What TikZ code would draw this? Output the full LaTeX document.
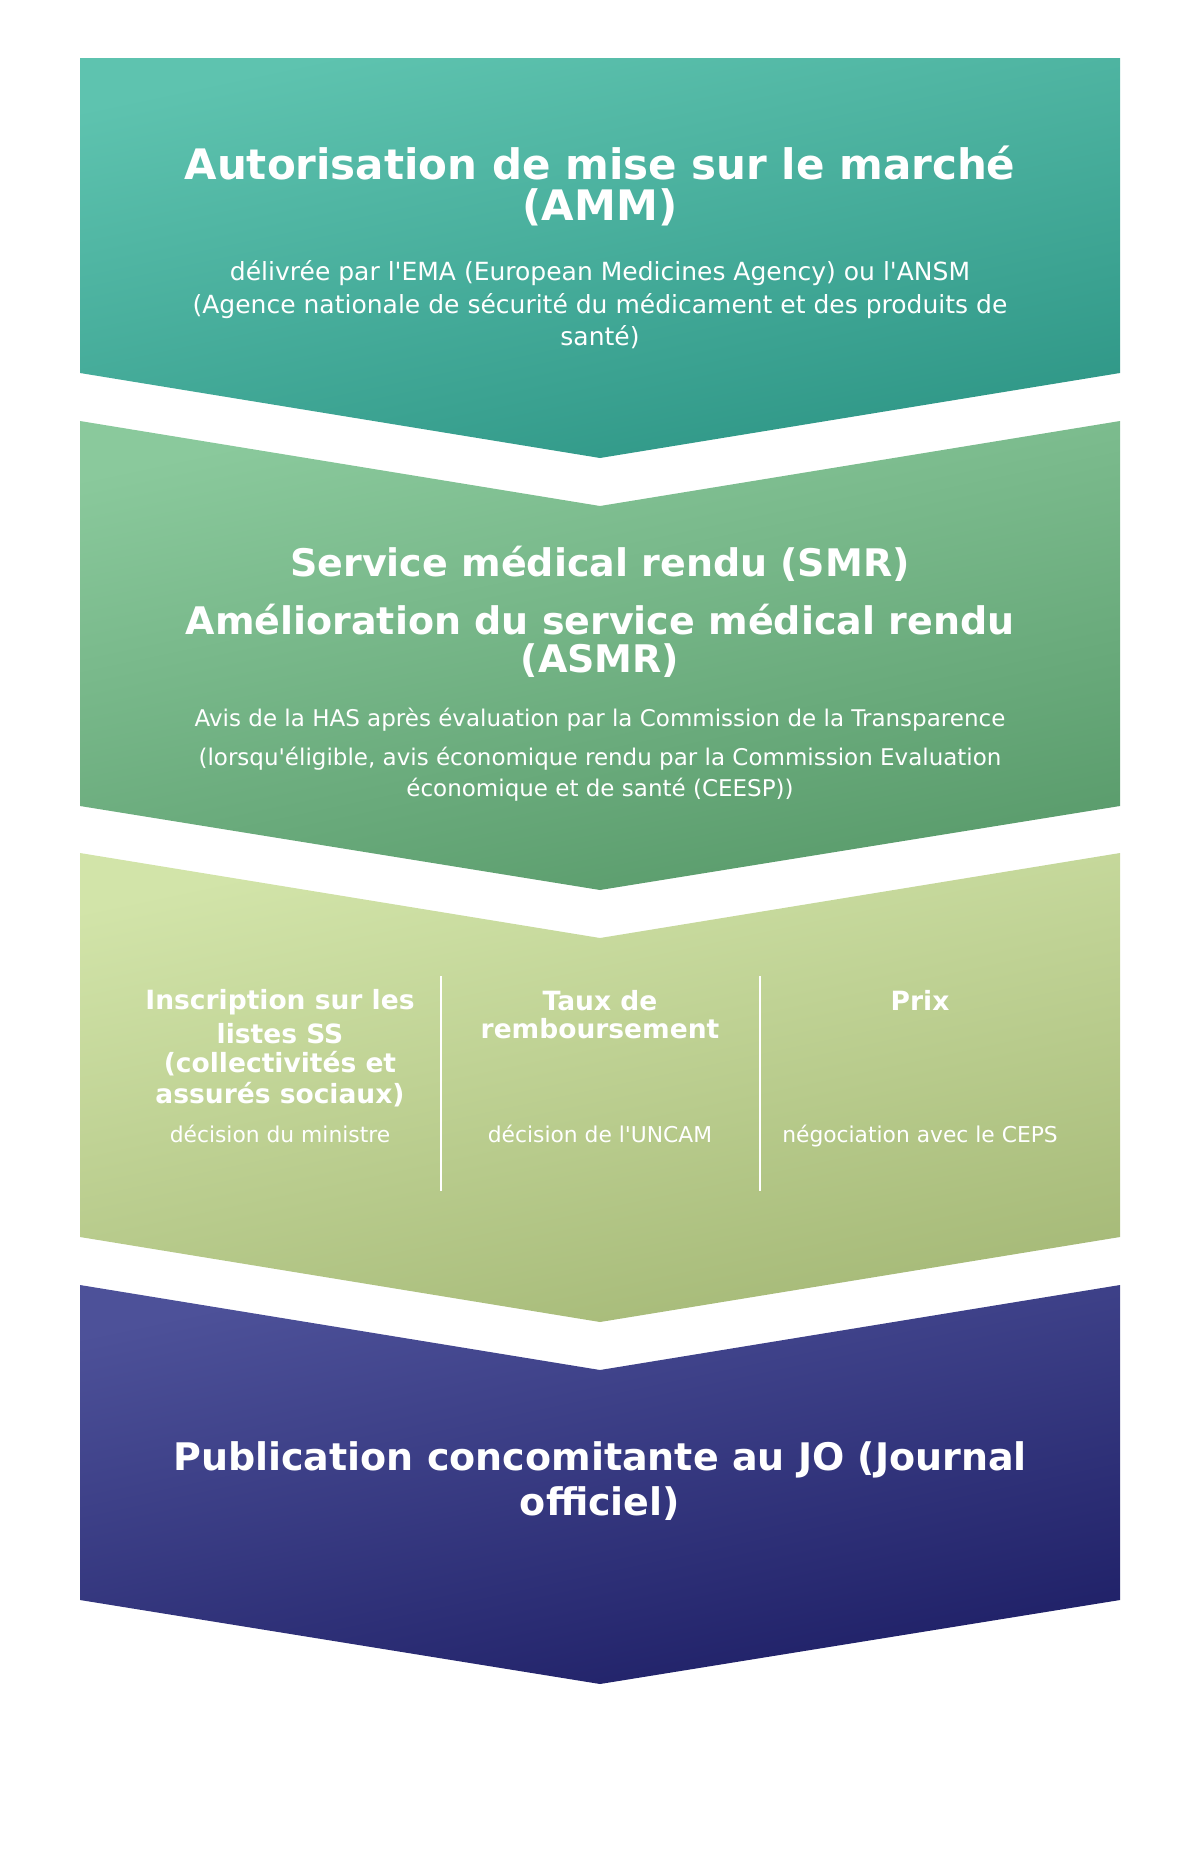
\documentclass[tikz,border=0pt]{standalone}
\usepackage{fontspec}
\setmainfont{DejaVu Sans}
\definecolor{aTop}{HTML}{5EC3AF}
\definecolor{aMid}{HTML}{40B6A1}
\definecolor{aBot}{HTML}{2E9686}
\definecolor{bTop}{HTML}{8AC99C}
\definecolor{bMid}{HTML}{6DBE84}
\definecolor{bBot}{HTML}{599B6B}
\definecolor{cTop}{HTML}{D2E4A9}
\definecolor{cMid}{HTML}{C6DA94}
\definecolor{cBot}{HTML}{A5B977}
\definecolor{dTop}{HTML}{4D5199}
\definecolor{dMid}{HTML}{262A7B}
\definecolor{dBot}{HTML}{1E1F66}
\newcommand{\apos}{\textquotesingle}
\begin{document}
\begin{tikzpicture}[x=1pt,y=-1pt,
  chev/.style n args={3}{top color=#1, middle color=#2, bottom color=#3, shading angle=12},
  ttl/.style={text=white, anchor=base, inner sep=0pt, font=\bfseries\fontsize{#1}{#1}\selectfont},
  txt/.style={text=white, anchor=base, inner sep=0pt, font=\fontsize{#1}{#1}\selectfont},
  divider/.style={draw=white, line width=2pt}]
\useasboundingbox (0,0) rectangle (1200,1850);
% chevrons
\shade[chev={aTop}{aMid}{aBot}]
  (80,58) -- (1120,58) -- (1120,373) -- (600,458) -- (80,373) -- cycle;
\shade[chev={bTop}{bMid}{bBot}]
  (80,421) -- (600,506) -- (1120,421) -- (1120,806) -- (600,890) -- (80,806) -- cycle;
\shade[chev={cTop}{cMid}{cBot}]
  (80,853) -- (600,938) -- (1120,853) -- (1120,1237) -- (600,1322) -- (80,1237) -- cycle;
\shade[chev={dTop}{dMid}{dBot}]
  (80,1285) -- (600,1370) -- (1120,1285) -- (1120,1600) -- (600,1684) -- (80,1600) -- cycle;
% step 1
\node[ttl=42] (amm1) at (600,179) {Autorisation de mise sur le marché};
\node[ttl=42] (amm2) at (600,220.7) {(AMM)};
\node[txt=25] (ema1) at (600,280.7) {délivrée par l\apos EMA (European Medicines Agency) ou l\apos ANSM};
\node[txt=25] (ema2) at (600,313) {(Agence nationale de sécurité du médicament et des produits de};
\node[txt=25] (ema3) at (600,345.7) {santé)};
% step 2
\node[ttl=38] (smr) at (600,576.7) {Service médical rendu (SMR)};
\node[ttl=38] (asmr1) at (600,634.3) {Amélioration du service médical rendu};
\node[ttl=38] (asmr2) at (600,672.3) {(ASMR)};
\node[txt=23] (has1) at (600,726.7) {Avis de la HAS après évaluation par la Commission de la Transparence};
\node[txt=23] (has2) at (600,765.7) {(lorsqu\apos éligible, avis économique rendu par la Commission Evaluation};
\node[txt=23] (has3) at (600,796.7) {économique et de santé (CEESP))};
% step 3
\node[ttl=26.5] (ins1) at (280,1009) {Inscription sur les};
\node[ttl=26.5] (ins2) at (280,1043) {listes SS};
\node[ttl=26.5] (ins3) at (280,1072) {(collectivités et};
\node[ttl=26.5] (ins4) at (280,1103) {assurés sociaux)};
\node[ttl=26.5] (taux1) at (600,1010) {Taux de};
\node[ttl=26.5] (taux2) at (600,1038) {remboursement};
\node[ttl=26.5] (prix) at (920,1010) {Prix};
\node[txt=21.8] (dmin) at (280,1142.7) {décision du ministre};
\node[txt=21.8] (duncam) at (600,1142.7) {décision de l\apos UNCAM};
\node[txt=21.8] (dceps) at (920,1142.7) {négociation avec le CEPS};
\coordinate (d1t) at (441,976);
\coordinate (d1b) at (441,1191);
\coordinate (d2t) at (760,976);
\coordinate (d2b) at (760,1191);
\draw[divider] (d1t) -- (d1b);
\draw[divider] (d2t) -- (d2b);
% step 4
\node[ttl=38] (jo1) at (600,1470) {Publication concomitante au JO (Journal};
\node[ttl=38] (jo2) at (600,1515) {officiel)};
\end{tikzpicture}
\end{document}
